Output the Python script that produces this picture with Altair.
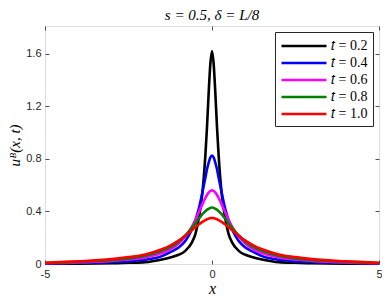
import altair as alt
import pandas as pd

# x positions (shared by all curves)
x_pts = [-5, -4, -3, -2.5, -2, -1.5, -1.25, -1, -0.8, -0.6, -0.5, -0.4, -0.3, -0.2, -0.15, -0.1, -0.05,
         0, 0.05, 0.1, 0.15, 0.2, 0.3, 0.4, 0.5, 0.6, 0.8, 1, 1.25, 1.5, 2, 2.5, 3, 4, 5]

u_t02 = [0.002, 0.003, 0.006, 0.009, 0.014, 0.035, 0.05, 0.07, 0.10, 0.165, 0.225, 0.34, 0.51, 0.82, 1.04, 1.30, 1.52,
         1.62, 1.52, 1.30, 1.04, 0.82, 0.51, 0.34, 0.225, 0.165, 0.10, 0.07, 0.05, 0.035, 0.014, 0.009, 0.006, 0.003, 0.002]
u_t04 = [0.004, 0.008, 0.016, 0.022, 0.032, 0.06, 0.09, 0.125, 0.175, 0.265, 0.33, 0.415, 0.53, 0.655, 0.72, 0.77, 0.81,
         0.825, 0.81, 0.77, 0.72, 0.655, 0.53, 0.415, 0.33, 0.265, 0.175, 0.125, 0.09, 0.06, 0.032, 0.022, 0.016, 0.008, 0.004]
u_t06 = [0.006, 0.012, 0.024, 0.034, 0.05, 0.083, 0.11, 0.155, 0.21, 0.285, 0.335, 0.39, 0.448, 0.502, 0.525, 0.543, 0.555,
         0.56, 0.555, 0.543, 0.525, 0.502, 0.448, 0.39, 0.335, 0.285, 0.21, 0.155, 0.11, 0.083, 0.05, 0.034, 0.024, 0.012, 0.006]
u_t08 = [0.008, 0.016, 0.03, 0.043, 0.063, 0.10, 0.128, 0.17, 0.218, 0.275, 0.308, 0.343, 0.375, 0.401, 0.412, 0.42, 0.427,
         0.43, 0.427, 0.42, 0.412, 0.401, 0.375, 0.343, 0.308, 0.275, 0.218, 0.17, 0.128, 0.10, 0.063, 0.043, 0.03, 0.016, 0.008]
u_t10 = [0.01, 0.02, 0.037, 0.052, 0.073, 0.112, 0.14, 0.178, 0.215, 0.258, 0.28, 0.30, 0.318, 0.334, 0.34, 0.345, 0.349,
         0.35, 0.349, 0.345, 0.34, 0.334, 0.318, 0.30, 0.28, 0.258, 0.215, 0.178, 0.14, 0.112, 0.073, 0.052, 0.037, 0.02, 0.01]

series_labels = ["𝑡 = 0.2", "𝑡 = 0.4", "𝑡 = 0.6", "𝑡 = 0.8", "𝑡 = 1.0"]
series_values = [u_t02, u_t04, u_t06, u_t08, u_t10]
series_colors = ["#000000", "#0000ff", "#ff00ff", "#008000", "#ff0000"]

x_ticks = [-5, 0, 5]
y_ticks = [0, 0.4, 0.8, 1.2, 1.6]

rows = []
for lab, vals in zip(series_labels, series_values):
    for xv, yv in zip(x_pts, vals):
        rows.append({"x": xv, "u": yv, "series": lab})
df = pd.DataFrame(rows)

W, H = 334, 238
axis_gray = "#262626"

chart = alt.Chart(df).mark_line(strokeWidth=2.6, interpolate="monotone").encode(
    x=alt.X("x:Q",
            scale=alt.Scale(domain=[-5, 5], nice=False, zero=False),
            axis=alt.Axis(values=x_ticks, labelExpr="'' + datum.value", ticks=False, domain=False,
                          grid=True, gridDash=[4, H - 8, 4, 1000], gridColor=axis_gray, gridWidth=0.8,
                          gridOpacity=1, labelFlush=False, labelFont="Liberation Sans", labelFontSize=11,
                          labelColor=axis_gray, labelPadding=4,
                          title="x", titleFont="Liberation Serif", titleFontStyle="italic", titleFontSize=16,
                          titleFontWeight="normal", titleColor="black", titlePadding=1)),
    y=alt.Y("u:Q",
            scale=alt.Scale(domain=[0, 1.81], nice=False, zero=False),
            axis=alt.Axis(values=y_ticks, labelExpr="'' + datum.value", ticks=False, domain=False,
                          grid=True, gridDash=[4, W - 8, 4, 1000], gridColor=axis_gray, gridWidth=0.8,
                          gridOpacity=1, labelFont="Liberation Sans", labelFontSize=11,
                          labelColor=axis_gray, labelPadding=4,
                          title="uᴮ(x, t)", titleFont="Liberation Serif", titleFontStyle="italic",
                          titleFontSize=15, titleFontWeight="normal", titleColor="black", titlePadding=3)),
    color=alt.Color("series:N",
                    scale=alt.Scale(domain=series_labels, range=series_colors),
                    legend=alt.Legend(title=None, orient="top-right", offset=6,
                                      symbolType="M-1,0H5", symbolSize=225, symbolStrokeWidth=2.6,
                                      labelFont="Liberation Serif", labelFontSize=14, labelColor="black",
                                      labelOffset=33, rowPadding=1, padding=5,
                                      strokeColor=axis_gray, fillColor="white", cornerRadius=0)),
).properties(
    width=W, height=H,
    title=alt.TitleParams("s = 0.5, δ = L/8", font="Liberation Serif", fontStyle="italic", fontSize=15,
                          fontWeight="normal", color="black", anchor="middle", offset=3),
    autosize=alt.AutoSizeParams(type="none"),
    padding={"left": 37, "top": 18, "right": 3, "bottom": 32},
).configure_view(stroke=axis_gray, strokeWidth=0.8).configure(background="white")

chart.save("out.html", embed_options={"renderer": "svg", "actions": False})
